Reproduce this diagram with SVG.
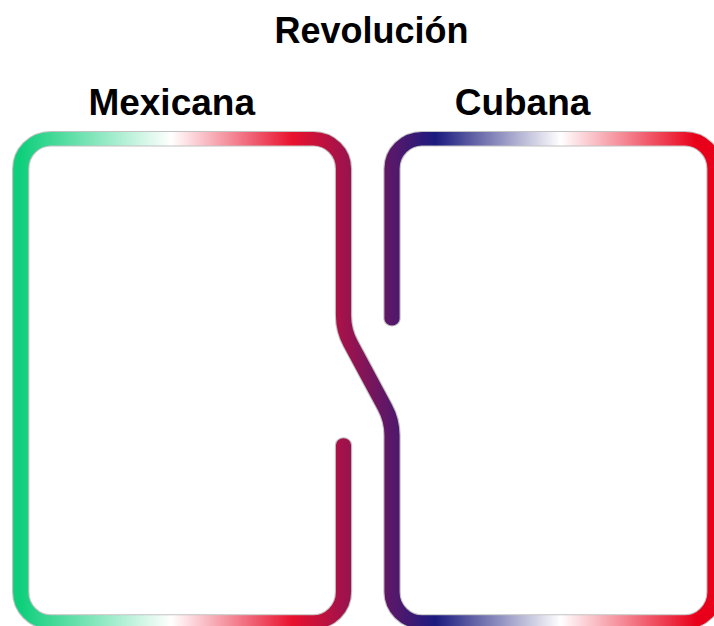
<svg xmlns="http://www.w3.org/2000/svg" width="714" height="626" viewBox="0 0 714 626">
  <style>
    .title { font-family: "Liberation Sans", Arial, sans-serif; font-weight: bold; fill: #000; text-anchor: middle; }
    .edge { fill: none; stroke: #c2c2c2; stroke-width: 15.5; stroke-linecap: round; stroke-linejoin: round; }
    .band { fill: none; stroke: url(#flag); stroke-width: 13.5; stroke-linecap: round; stroke-linejoin: round; }
  </style>
  <defs>
    <linearGradient id="flag" gradientUnits="userSpaceOnUse" x1="0" y1="0" x2="637.5" y2="0">
      <stop offset="0.03" stop-color="#10cf7c"/>
      <stop offset="0.24" stop-color="#ffffff"/>
      <stop offset="0.41" stop-color="#e8112d"/>
      <stop offset="0.48" stop-color="#a3124a"/>
      <stop offset="0.55" stop-color="#56186a"/>
      <stop offset="0.61" stop-color="#1b1b7f"/>
      <stop offset="0.785" stop-color="#ffffff"/>
      <stop offset="0.975" stop-color="#e8001a"/>
    </linearGradient>
    <path id="outline" d="M306.70,445 L306.70,592 A26.79,30 0 0 1 279.91,622 L45.27,622 A26.79,30 0 0 1 18.48,592 L18.48,168.7 A26.79,30 0 0 1 45.27,138.7 L279.91,138.7 A26.79,30 0 0 1 306.70,168.7 L306.70,315.5 Q306.70,330.5 313.13,343.7 L343.57,407.1 Q350,420.3 350,435.3 L350,592 A26.79,30 0 0 0 376.79,622 L611.61,622 A26.79,30 0 0 0 638.39,592 L638.39,168.7 A26.79,30 0 0 0 611.61,138.7 L376.79,138.7 A26.79,30 0 0 0 350,168.7 L350,318.7"/>
  </defs>
  <g id="connectors" transform="scale(1.12,1)">
    <use href="#outline" class="edge"/>
    <use href="#outline" class="band"/>
  </g>
  <g id="title-revolucion">
    <text class="title" x="371.5" y="43" font-size="36">Revolución</text>
  </g>
  <g id="node-mexicana">
    <text class="title" x="171.7" y="115" font-size="37">Mexicana</text>
  </g>
  <g id="node-cubana">
    <text class="title" x="522.5" y="115" font-size="37">Cubana</text>
  </g>
</svg>
